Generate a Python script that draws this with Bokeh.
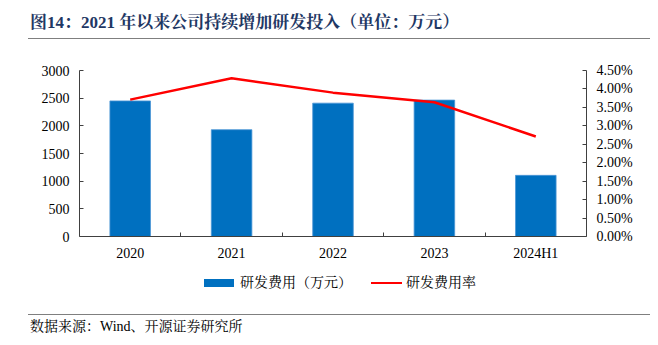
from bokeh.plotting import figure
from bokeh.layouts import column
from bokeh.models import (Range1d, LinearAxis, FixedTicker, NumeralTickFormatter,
                          ColumnDataSource, Div)
from bokeh.embed import file_html
from bokeh.resources import INLINE

categories = ["2020", "2021", "2022", "2023", "2024H1"]
rd_expense = [2450, 1930, 2410, 2465, 1105]          # 研发费用（万元）
rd_ratio = [0.0371, 0.0429, 0.0390, 0.0364, 0.0271]  # 研发费用率
left_ticks = [0, 500, 1000, 1500, 2000, 2500, 3000]
right_ticks = [0.0, 0.005, 0.01, 0.015, 0.02, 0.025, 0.03, 0.035, 0.04, 0.045]

title_text = "图14：2021 年以来公司持续增加研发投入（单位：万元）"
source_text = "数据来源：Wind、开源证券研究所"
legend_labels = ["研发费用（万元）", "研发费用率"]

FONT = "'Times New Roman', 'Liberation Serif', 'Noto Serif CJK SC', 'Noto Sans CJK SC', serif"
BAR = "#0070C0"
RED = "#FF0000"
AXIS = "#404040"
RULE = "#7f7f7f"

W = 658
H_TOP, H_MAIN, H_BOT = 45, 220, 80
FL, FR = 79, 586


def txt(x, y, text, size, color="black", bold=False):
    weight = "bold" if bold else "normal"
    return (f'<span style="position:absolute;left:{x}px;top:{y}px;transform:translateY(-50%);'
            f'font-family:{FONT};font-size:{size}px;font-weight:{weight};color:{color};'
            f'white-space:nowrap;line-height:1;">{text}</span>')


def rect(x, y, w, h, color):
    return (f'<div style="position:absolute;left:{x}px;top:{y}px;width:{w}px;height:{h}px;'
            f'background:{color};"></div>')


def strip(h, inner):
    return Div(width=W, height=h, margin=0,
               text=f'<div style="position:relative;width:{W}px;height:{h}px;'
                    f'background:white;overflow:hidden;">{inner}</div>')


# ---- title strip ----
top = strip(H_TOP, txt(30, 22, title_text, 17, color="#1f3864", bold=True)
            + rect(28, 38, 622, 1.3, RULE))

# ---- main chart ----
xpos = [i + 0.5 for i in range(len(categories))]
src = ColumnDataSource(dict(x=xpos, cat=categories, exp=rd_expense, ratio=rd_ratio))

p = figure(width=W, height=H_MAIN, output_backend="svg", toolbar_location=None,
           x_range=Range1d(0, len(categories)), y_range=Range1d(0, 3000))
p.min_border_left = FL
p.min_border_right = W - FR
p.min_border_top = 25
p.min_border_bottom = 29
p.outline_line_color = None
p.background_fill_color = "white"
p.border_fill_color = "white"
p.xgrid.visible = False
p.ygrid.visible = False
p.extra_y_ranges = {"pct": Range1d(0, 0.045)}

p.vbar(x="x", top="exp", width=0.4, source=src, fill_color=BAR,
       line_color="#4a95d6", line_width=0.8)
p.line(x="x", y="ratio", source=src, y_range_name="pct", line_color=RED, line_width=2.5)

xa = p.xaxis[0]
xa.ticker = FixedTicker(ticks=xpos, minor_ticks=list(range(1, len(categories))))
xa.major_label_overrides = {xv: c for xv, c in zip(xpos, categories)}
xa.major_tick_in = 0
xa.major_tick_out = 0
xa.minor_tick_in = 4
xa.minor_tick_out = 0
xa.minor_tick_line_color = AXIS
xa.axis_line_color = AXIS
xa.major_label_standoff = 9
xa.major_label_text_font = FONT
xa.major_label_text_font_size = "14px"
xa.major_label_text_color = "black"

ya = p.yaxis[0]
ya.ticker = FixedTicker(ticks=left_ticks)
ya.major_tick_in = 4
ya.major_tick_out = 0
ya.minor_tick_line_color = None
ya.axis_line_color = AXIS
ya.major_tick_line_color = AXIS
ya.major_label_standoff = 10
ya.major_label_text_font = FONT
ya.major_label_text_font_size = "14px"
ya.major_label_text_color = "black"

ra = LinearAxis(y_range_name="pct", ticker=FixedTicker(ticks=right_ticks),
                formatter=NumeralTickFormatter(format="0.00%"))
ra.major_tick_in = 4
ra.major_tick_out = 0
ra.minor_tick_line_color = None
ra.axis_line_color = AXIS
ra.major_tick_line_color = AXIS
ra.major_label_standoff = 10
ra.major_label_text_font = FONT
ra.major_label_text_font_size = "14px"
ra.major_label_text_color = "black"
p.add_layout(ra, "right")

# ---- legend + source strip (canvas y 265..345) ----
bot = strip(H_BOT,
            rect(204, 14, 30, 8, BAR)
            + txt(240, 18, legend_labels[0], 14)
            + rect(371, 16.75, 31, 2.5, RED)
            + txt(406, 18, legend_labels[1], 14)
            + rect(28, 48.5, 622, 1.3, RULE)
            + txt(30, 62, source_text, 14))

layout = column(top, p, bot, spacing=0)
open("out.html", "w").write(file_html(layout, INLINE))
